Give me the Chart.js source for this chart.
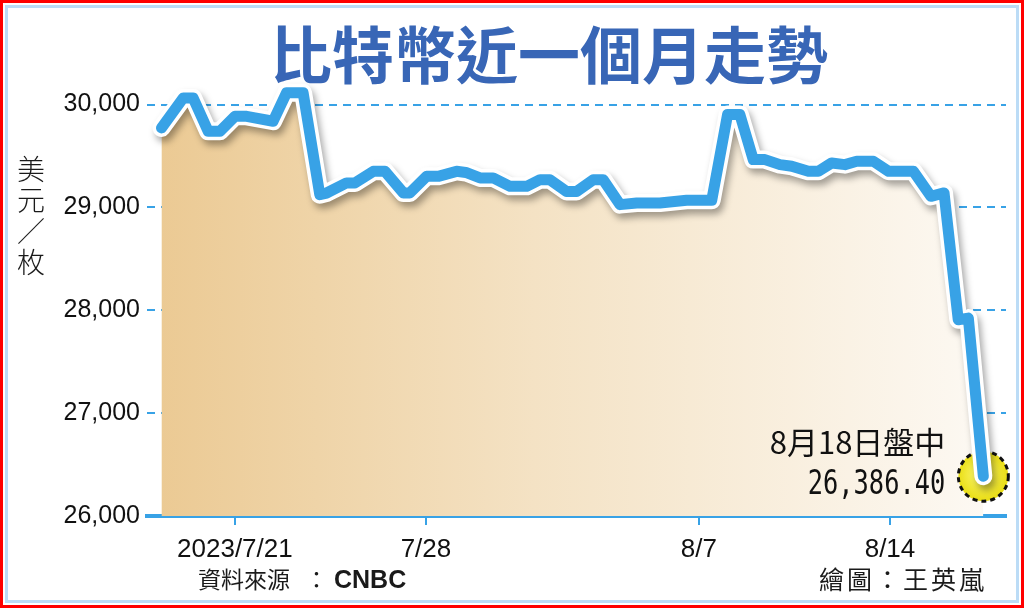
<!DOCTYPE html>
<html>
<head>
<meta charset="utf-8">
<script src="https://cdn.jsdelivr.net/npm/chart.js@4.4.0/dist/chart.umd.min.js"></script>
<style>
html, body { margin: 0; padding: 0; background: #fff; }
#wrap { position: relative; width: 1024px; height: 608px; overflow: hidden; background: #fff; }
.frame { position: absolute; box-sizing: border-box; }
#outer { left: 0; top: 0; width: 1024px; height: 608px; border: 3px solid #f00; }
#inner { left: 5px; top: 5px; width: 1014px; height: 598px; border: 3px solid #bcdcf6; }
canvas { position: absolute; left: 0; top: 0; }
.txt { position: absolute; white-space: nowrap; color: #1a1a1a; font-family: 'Noto Sans CJK TC', 'Noto Sans CJK SC', sans-serif; }
#title { left: 0; width: 1098px; top: 21px; text-align: center; font-size: 62px; line-height: 62px; font-weight: 700; color: #3866b6; }
#unit { left: 17px; width: 28px; top: 153px; font-size: 28px; line-height: 31px; text-align: center; font-weight: 300; }
#source { left: 198px; top: 566px; font-size: 23px; line-height: 25px; }
#source .colon { margin-left: 15px; margin-right: 6px; }
#source b { font-family: 'Liberation Sans', Arial, sans-serif; font-weight: 700; font-size: 25px; }
#author { right: 37px; top: 565px; font-size: 25px; line-height: 26px; text-align: right; letter-spacing: 3px; }
</style>
</head>
<body>
<div id="wrap">
  <div class="frame" id="outer"></div>
  <div class="frame" id="inner"></div>
  <canvas id="chart" width="1024" height="608"></canvas>
  <div class="txt" id="title">比特幣近一個月走勢</div>
  <div class="txt" id="unit">美<br>元<br>／<br>枚</div>
  <div class="txt" id="source">資料來源<span class="colon">：</span><b>CNBC</b></div>
  <div class="txt" id="author">繪圖：王英嵐</div>
</div>
<script>
// days counted from 2023/6/30 (so 21 = 7/21, 38 = 8/7)
var days = [18.31, 19.11, 19.47, 20.02, 20.45, 21.0, 21.43, 22.40, 22.89, 23.50,
    24.11, 24.36, 25.09, 25.40, 26.07, 26.50, 27.17, 27.41, 28.02, 28.45,
    29.12, 29.46, 29.98, 30.46, 31.08, 31.69, 32.18, 32.54, 33.15, 33.52,
    34.13, 34.49, 35.11, 35.72, 36.57, 37.55, 38.47, 39.05, 39.50, 39.99,
    40.42, 40.97, 41.40, 42.01, 42.37, 42.86, 43.35, 43.78, 44.39, 44.95,
    45.86, 46.50, 46.98, 47.50, 47.87, 48.42];
var prices = [29773, 30065, 30065, 29740, 29740, 29886, 29886, 29838, 30114, 30114,
    29124, 29140, 29238, 29238, 29351, 29351, 29141, 29141, 29302, 29302,
    29351, 29340, 29287, 29287, 29205, 29205, 29270, 29270, 29156, 29156,
    29270, 29270, 29027, 29043, 29043, 29070, 29070, 29903, 29903, 29465,
    29465, 29416, 29400, 29351, 29351, 29432, 29416, 29449, 29449, 29351,
    29351, 29108, 29141, 27908, 27924, 26386.4];
var xTickDays = [21, 28, 38, 45];
var xTickLabels = ['2023/7/21', '7/28', '8/7', '8/14'];
var yTicks = [26000, 27000, 28000, 29000, 30000];
var lastLabel = '8月18日盤中';
var lastValue = '26,386.40';

var blue = '#38a2e6';
var points = days.map(function (d, i) { return {x: d, y: prices[i]}; });

var fillGradient = function (context) {
    var area = context.chart.chartArea;
    if (!area) return null;
    var g = context.chart.ctx.createLinearGradient(area.left, 0, area.right, 0);
    g.addColorStop(0, '#ebc992');
    g.addColorStop(0.45, '#f4e2c4');
    g.addColorStop(1, '#fdfaf5');
    return g;
};

var decor = {
    id: 'decor',
    beforeDatasetDraw: function (chart, args) {
        if (args.index === 1) {
            var ctx = chart.ctx;
            ctx.save();
            ctx.shadowColor = 'rgba(0,0,0,0.35)';
            ctx.shadowBlur = 7;
            ctx.shadowOffsetX = 3;
            ctx.shadowOffsetY = 5;
        }
    },
    afterDatasetDraw: function (chart, args) {
        var ctx = chart.ctx;
        if (args.index === 1) ctx.restore();
        if (args.index === 2) {
            // yellow marker under the last point
            var pt = chart.getDatasetMeta(2).data[days.length - 1];
            ctx.save();
            var g = ctx.createRadialGradient(pt.x - 4, pt.y - 4, 2, pt.x, pt.y, 26);
            g.addColorStop(0, '#fbf66a');
            g.addColorStop(1, '#e9dd12');
            ctx.beginPath();
            ctx.arc(pt.x, pt.y, 25, 0, Math.PI * 2);
            ctx.fillStyle = g;
            ctx.fill();
            ctx.setLineDash([5, 4]);
            ctx.lineWidth = 3;
            ctx.strokeStyle = '#111';
            ctx.stroke();
            ctx.restore();
        }
    },
    afterDatasetsDraw: function (chart) {
        var ctx = chart.ctx;
        var pt = chart.getDatasetMeta(0).data[days.length - 1];
        ctx.save();
        ctx.fillStyle = '#111';
        ctx.textAlign = 'right';
        ctx.textBaseline = 'alphabetic';
        ctx.font = '31px "Noto Sans CJK TC"';
        ctx.fillText(lastLabel, pt.x - 38, pt.y - 22);
        ctx.translate(pt.x - 38, pt.y + 18);
        ctx.scale(0.77, 1);
        ctx.font = '33px "DejaVu Sans Mono"';
        ctx.fillText(lastValue, 0, 0);
        ctx.restore();
    }
};

new Chart(document.getElementById('chart'), {
    type: 'line',
    data: {
        datasets: [{
            data: points,
            borderColor: blue,
            borderWidth: 11,
            borderJoinStyle: 'round',
            borderCapStyle: 'round',
            pointRadius: 0,
            fill: false,
            tension: 0,
            clip: false
        }, {
            data: points,
            borderColor: '#ffffff',
            borderWidth: 18,
            borderJoinStyle: 'round',
            borderCapStyle: 'round',
            pointRadius: 0,
            fill: false,
            tension: 0,
            clip: false
        }, {
            data: points,
            borderWidth: 0,
            pointRadius: 0,
            fill: 'origin',
            backgroundColor: fillGradient,
            tension: 0
        }]
    },
    options: {
        responsive: false,
        animation: false,
        devicePixelRatio: 1,
        layout: {padding: {left: 0, right: 18, top: 84, bottom: 0}},
        plugins: {legend: {display: false}, tooltip: {enabled: false}},
        scales: {
            x: {
                type: 'linear',
                min: 17.78,
                max: 49.25,
                afterFit: function (scale) { scale.height = 92; },
                afterBuildTicks: function (scale) {
                    scale.ticks = xTickDays.map(function (v) { return {value: v}; });
                },
                ticks: {
                    autoSkip: false,
                    maxRotation: 0,
                    padding: 9,
                    color: '#111',
                    font: {family: 'Liberation Sans', size: 26},
                    callback: function (v, i) { return xTickLabels[i]; }
                },
                grid: {drawOnChartArea: false, drawTicks: true, tickLength: 9, color: blue, lineWidth: 2},
                border: {display: true, color: blue, width: 4}
            },
            y: {
                min: 26000,
                max: 30200,
                afterFit: function (scale) { scale.width = 147; },
                afterBuildTicks: function (scale) {
                    scale.ticks = yTicks.map(function (v) { return {value: v}; });
                },
                ticks: {
                    padding: 7,
                    color: '#111',
                    font: {family: 'Liberation Sans', size: 25},
                    callback: function (v) { return v.toLocaleString('en-US'); }
                },
                grid: {
                    drawTicks: false,
                    lineWidth: 2,
                    color: function (c) { return c.tick && c.tick.value === 26000 ? 'rgba(0,0,0,0)' : blue; }
                },
                border: {display: false, dash: [8, 6]}
            }
        }
    },
    plugins: [decor]
});
</script>
</body>
</html>
